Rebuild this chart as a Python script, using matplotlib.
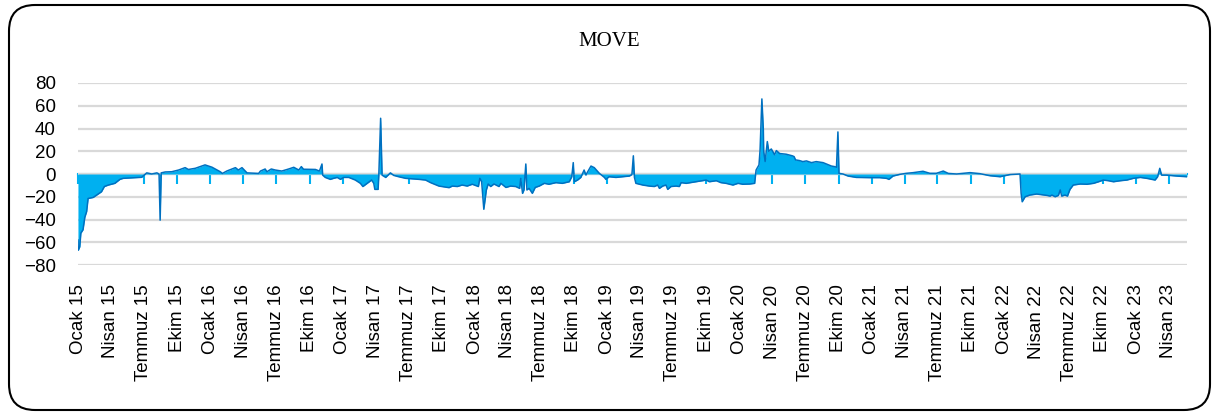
import matplotlib
matplotlib.use("Agg")
import matplotlib.pyplot as plt
import matplotlib.dates as mdates
import matplotlib.patches as mpatches
from matplotlib.transforms import IdentityTransform
import pandas as pd

# MOVE series
dates = [
    "2014-12-31", "2015-01-01", "2015-01-05", "2015-01-08", "2015-01-14", "2015-01-19",
    "2015-01-24", "2015-01-28", "2015-02-11", "2015-02-25", "2015-03-06", "2015-03-14",
    "2015-03-25", "2015-04-12", "2015-04-26", "2015-05-05", "2015-06-07", "2015-06-25",
    "2015-07-09", "2015-07-23", "2015-08-06", "2015-08-12", "2015-08-15", "2015-08-18",
    "2015-08-29", "2015-09-16", "2015-10-05", "2015-10-23", "2015-11-01", "2015-11-20",
    "2015-12-17", "2016-01-05", "2016-01-28", "2016-02-03", "2016-02-15", "2016-03-10",
    "2016-03-18", "2016-03-28", "2016-04-11", "2016-05-13", "2016-05-18", "2016-05-31",
    "2016-06-05", "2016-06-17", "2016-06-28", "2016-07-16", "2016-08-04", "2016-08-18",
    "2016-09-01", "2016-09-08", "2016-09-14", "2016-10-17", "2016-10-28", "2016-11-04",
    "2016-11-06", "2016-11-13", "2016-11-27", "2016-12-06", "2016-12-16", "2016-12-25",
    "2017-01-03", "2017-01-17", "2017-02-04", "2017-02-18", "2017-02-25", "2017-03-09",
    "2017-03-21", "2017-03-27", "2017-03-30", "2017-04-08", "2017-04-10", "2017-04-15",
    "2017-04-19", "2017-04-29", "2017-05-12", "2017-05-21", "2017-06-04", "2017-06-23",
    "2017-07-30", "2017-08-17", "2017-08-31", "2017-09-23", "2017-10-21", "2017-10-30",
    "2017-11-13", "2017-11-26", "2017-12-10", "2017-12-24", "2018-01-10", "2018-01-14",
    "2018-01-19", "2018-01-25", "2018-02-01", "2018-02-06", "2018-02-13", "2018-02-22",
    "2018-03-08", "2018-03-13", "2018-03-27", "2018-04-09", "2018-04-23", "2018-05-04",
    "2018-05-07", "2018-05-12", "2018-05-16", "2018-05-21", "2018-05-24", "2018-05-30",
    "2018-06-08", "2018-06-16", "2018-06-27", "2018-07-11", "2018-07-24", "2018-08-12",
    "2018-08-30", "2018-09-18", "2018-09-25", "2018-09-29", "2018-10-02", "2018-10-11",
    "2018-10-20", "2018-10-29", "2018-11-03", "2018-11-08", "2018-11-17", "2018-11-26",
    "2018-12-10", "2018-12-24", "2018-12-28", "2019-01-06", "2019-01-25", "2019-02-12",
    "2019-03-03", "2019-03-10", "2019-03-14", "2019-03-17", "2019-03-21", "2019-04-09",
    "2019-04-27", "2019-05-11", "2019-05-20", "2019-05-25", "2019-06-03", "2019-06-12",
    "2019-06-17", "2019-06-26", "2019-07-10", "2019-07-19", "2019-07-24", "2019-08-07",
    "2019-09-03", "2019-09-22", "2019-10-01", "2019-10-10", "2019-10-29", "2019-11-11",
    "2019-11-25", "2019-12-14", "2019-12-28", "2020-01-10", "2020-01-29", "2020-02-12",
    "2020-02-16", "2020-02-24", "2020-02-27", "2020-03-03", "2020-03-07", "2020-03-08",
    "2020-03-12", "2020-03-18", "2020-03-22", "2020-03-29", "2020-04-07", "2020-04-12",
    "2020-04-21", "2020-05-09", "2020-05-26", "2020-05-31", "2020-06-04", "2020-06-15",
    "2020-06-24", "2020-07-04", "2020-07-18", "2020-07-31", "2020-08-19", "2020-08-28",
    "2020-09-11", "2020-09-20", "2020-09-25", "2020-09-29", "2020-10-02", "2020-10-13",
    "2020-10-27", "2020-11-19", "2020-12-26", "2021-01-22", "2021-02-10", "2021-02-17",
    "2021-02-28", "2021-03-19", "2021-04-06", "2021-04-25", "2021-05-22", "2021-06-10",
    "2021-06-28", "2021-07-17", "2021-07-31", "2021-08-23", "2021-09-29", "2021-10-26",
    "2021-11-23", "2021-12-21", "2022-01-17", "2022-02-14", "2022-02-17", "2022-02-20",
    "2022-02-28", "2022-03-13", "2022-04-01", "2022-04-15", "2022-04-29", "2022-05-08",
    "2022-05-13", "2022-05-22", "2022-05-31", "2022-06-05", "2022-06-09", "2022-06-18",
    "2022-06-25", "2022-07-02", "2022-07-11", "2022-07-30", "2022-08-18", "2022-09-05",
    "2022-09-19", "2022-10-02", "2022-10-16", "2022-10-30", "2022-11-18", "2022-12-06",
    "2022-12-24", "2023-01-12", "2023-01-30", "2023-02-22", "2023-03-01", "2023-03-07",
    "2023-03-12", "2023-03-26", "2023-04-23", "2023-05-21",
]
values = [
    -58, -67, -64, -52, -49, -38,
    -33, -21.5, -20.6, -17.6, -15.6, -11,
    -9.7, -8.2, -4.7, -3.8, -3.2, -2.9,
    1, 0, 1, 0, -40.6, 1,
    1.8, 2, 3.5, 5.6, 4, 5,
    8, 6, 2, 0.5, 2.6, 5.6,
    3.5, 5.6, 1, 0.5, 2.6, 4.4,
    2, 4.4, 3.5, 2.6, 4.4, 5.9,
    3.5, 6.5, 4.2, 4, 2.6, 8.8,
    -1, -3, -4.7, -3.8, -3, -4.7,
    -3, -3, -5.3, -8.2, -11, -8.2,
    -5.3, -8.2, -13.5, -13.5, -1, 49,
    -1, -3, 1, -1.2, -2.4, -3.8,
    -4.7, -5.3, -7.6, -10.6, -12, -10.6,
    -11, -9.7, -10.6, -9, -11, -3.8,
    -6.8, -31, -14, -8.8, -11, -8.8,
    -11, -8.2, -11.8, -10.6, -11, -12.6,
    -3.8, -17, -14, 8.8, -14, -12.6,
    -17, -11.8, -10.6, -8.2, -9, -7.6,
    -8.2, -6.8, -2.4, 10, -6.8, -5.3,
    -3, 3.5, -0.9, 2, 7, 5.6,
    0.6, -3, -4.7, -2.4, -3, -2.4,
    -1.8, -0.5, 16, -3, -8.2, -9.7,
    -10.6, -11, -9.7, -12.6, -10.6, -9.7,
    -13.5, -11, -10.6, -11, -7.6, -8.2,
    -6.8, -5.9, -5.3, -6.8, -5.9, -7.6,
    -8.2, -9.7, -8.2, -9, -8.8, -8.2,
    3.5, 8, 21, 66, 39, 20,
    11, 28.5, 20, 22, 17, 20.6,
    18, 17.4, 16, 15.3, 12.4, 11.8,
    10.9, 11.5, 10, 10.9, 10, 8.8,
    7, 6.5, 5.9, 37, 0.6, 0,
    -1.8, -3, -3.2, -3.2, -3.8, -4.7,
    -1.8, -0.3, 0.6, 1.2, 2.4, 0.6,
    0.6, 2.6, 0.5, 0, 1.2, 0.3,
    -1.5, -2.4, -0.5, 0, -17, -24.4,
    -20, -18.5, -17.6, -18.2, -18.8, -19.4,
    -18.5, -20, -18.8, -14, -19.4, -18.5,
    -19.4, -13.5, -9.7, -8.8, -9, -8.2,
    -6.8, -5.3, -5.9, -6.8, -5.9, -5.3,
    -3.8, -3, -3.8, -5.3, -2.4, 5,
    -1, -1, -1.8, -2.4,
]

tick_dates = pd.date_range("2015-01-01", "2023-04-01", freq="QS")
tick_labels = []
month_names = {1: "Ocak", 4: "Nisan", 7: "Temmuz", 10: "Ekim"}
for d in tick_dates:
    tick_labels.append(f"{month_names[d.month]} {d.year % 100:02d}")

x = pd.to_datetime(dates)

fig = plt.figure(figsize=(12.18, 4.15), dpi=100)
ax = fig.add_axes([0.064, 0.3614, 0.9105, 0.4386])

ax.fill_between(x, values, 0, color="#00B0F0", lw=0, zorder=2)
ax.plot(x, values, color="#0070C0", lw=1.1, zorder=3)

ax.set_ylim(-80, 80)
ax.set_yticks(range(-80, 81, 20))
ax.set_xlim(x[0], x[-1])
ax.grid(True, axis="y", color="#D9D9D9", lw=1.6)
ax.set_axisbelow(True)
for s in ax.spines.values():
    s.set_visible(False)

ax.set_xticks(tick_dates)
ax.set_xticklabels(tick_labels, rotation=90)
ax.tick_params(axis="x", length=0, pad=14, labelsize=13.5)
ax.tick_params(axis="y", length=0, pad=16, labelsize=13.5)
for lab in ax.get_xticklabels() + ax.get_yticklabels():
    lab.set_fontfamily("Liberation Sans")

# horizontal axis line and tick marks at zero
sec = ax.secondary_xaxis(0.5)
sec.set_xticks(mdates.date2num(tick_dates))
sec.set_xticklabels([""] * len(tick_dates))
sec.tick_params(axis="x", direction="in", length=7, width=1.5, color="#00B0F0")
for s in sec.spines.values():
    s.set_color("#00B0F0")
    s.set_linewidth(1.5)

fig.text(0.5, 0.9, "MOVE", ha="center", va="center",
         fontsize=15, family="Liberation Serif")

# rounded frame
frame = mpatches.FancyBboxPatch((9, 5), 1201, 405,
                                boxstyle="round,pad=0,rounding_size=26",
                                transform=IdentityTransform(),
                                fill=False, ec="black", lw=1.5)
fig.patches.append(frame)

fig.savefig("out.png", dpi=100)
